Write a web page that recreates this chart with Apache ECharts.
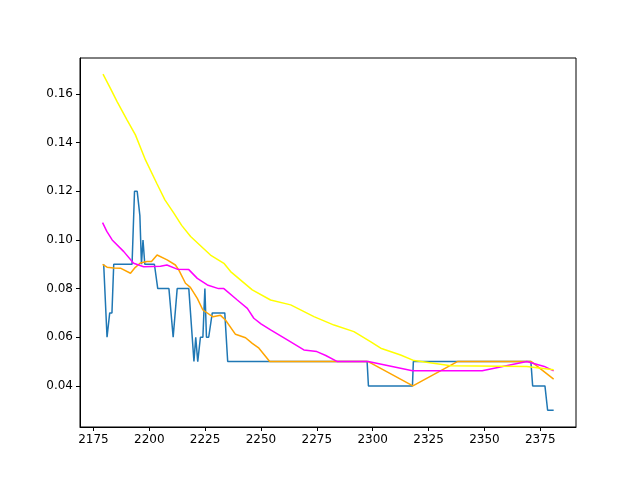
<!DOCTYPE html>
<html>
<head>
<meta charset="utf-8">
<script src="https://cdn.jsdelivr.net/npm/echarts@6/dist/echarts.min.js"></script>
<style>html,body{margin:0;background:#fff}#c{width:640px;height:480px}</style>
</head>
<body>
<div id="c"></div>
<script>
// [x, y] pairs
const blueLine = [
    [2179.6, 0.090], [2181.1, 0.060], [2182.3, 0.070], [2183.3, 0.070], [2184.1, 0.090],
    [2192.3, 0.090], [2193.4, 0.120], [2194.6, 0.120], [2195.8, 0.110], [2196.5, 0.090],
    [2197.2, 0.100], [2198.0, 0.090], [2202.3, 0.090], [2203.8, 0.080], [2208.8, 0.080],
    [2210.7, 0.060], [2212.5, 0.080], [2217.7, 0.080], [2220.0, 0.050], [2220.8, 0.060],
    [2221.7, 0.050], [2222.9, 0.060], [2224.0, 0.060], [2224.9, 0.080], [2225.6, 0.060],
    [2226.6, 0.060], [2228.2, 0.070], [2233.8, 0.070], [2235.1, 0.050], [2297.5, 0.050],
    [2298.1, 0.040], [2317.8, 0.040], [2318.2, 0.050], [2370.8, 0.050], [2371.6, 0.040],
    [2377.1, 0.040], [2378.3, 0.030], [2381.0, 0.030]
];
const orangeLine = [
    [2179.1, 0.090], [2181.1, 0.0888], [2184.0, 0.0885], [2187.1, 0.0884], [2191.6, 0.0863],
    [2193.4, 0.0884], [2196.0, 0.0905], [2199.0, 0.0911], [2201.0, 0.0911], [2203.5, 0.0938],
    [2208.0, 0.0918], [2211.7, 0.0897], [2213.2, 0.0877], [2216.2, 0.0822], [2218.4, 0.0805],
    [2221.5, 0.0760], [2224.0, 0.0712], [2228.5, 0.0684], [2231.9, 0.0690], [2234.1, 0.0671],
    [2238.6, 0.0612], [2243.1, 0.0598], [2246.1, 0.0575], [2249.1, 0.0555], [2253.9, 0.0500],
    [2298.0, 0.0500], [2318.0, 0.0400], [2337.9, 0.0500], [2371.0, 0.0500], [2381.0, 0.0428]
];
const magentaLine = [
    [2179.1, 0.1071], [2181.0, 0.1035], [2183.4, 0.1000], [2188.6, 0.0952], [2193.0, 0.0904],
    [2197.5, 0.0890], [2205.0, 0.0892], [2207.9, 0.0897], [2212.5, 0.0880], [2217.7, 0.0878],
    [2221.5, 0.0842], [2226.0, 0.0815], [2231.0, 0.0800], [2233.4, 0.0800], [2239.4, 0.0753],
    [2243.9, 0.0719], [2246.8, 0.0678], [2250.0, 0.0655], [2254.3, 0.0630], [2261.8, 0.0589],
    [2269.2, 0.0548], [2275.0, 0.0541], [2279.0, 0.0525], [2284.2, 0.0500], [2298.0, 0.0500],
    [2317.8, 0.0462], [2349.0, 0.0462], [2369.0, 0.0500], [2376.8, 0.0480], [2381.0, 0.0462]
];
const yellowLine = [
    [2179.3, 0.1682], [2182.5, 0.1625], [2185.6, 0.1569], [2190.1, 0.1493], [2193.8, 0.1432],
    [2198.3, 0.1329], [2203.5, 0.1230], [2207.0, 0.1165], [2211.0, 0.1110], [2214.5, 0.1060],
    [2218.5, 0.1014], [2227.4, 0.0938], [2233.4, 0.0904], [2236.4, 0.0870], [2246.1, 0.0795],
    [2254.3, 0.0753], [2263.3, 0.0733], [2273.7, 0.0685], [2282.7, 0.0650], [2291.6, 0.0623],
    [2299.0, 0.0582], [2303.6, 0.0555], [2312.5, 0.0527], [2318.5, 0.0504], [2335.0, 0.0483],
    [2369.0, 0.0480], [2381.0, 0.0466]
];
const xTicks = [2175, 2200, 2225, 2250, 2275, 2300, 2325, 2350, 2375];
const yTicks = [0.04, 0.06, 0.08, 0.10, 0.12, 0.14, 0.16];

const axisCommon = {
    axisLine: { show: true, onZero: false, lineStyle: { color: '#000', width: 1 } },
    axisTick: { show: true, length: 4, lineStyle: { color: '#000' } },
    splitLine: { show: false },
    axisLabel: { color: '#000', fontSize: 12, fontFamily: 'DejaVu Sans' }
};

const line = (data, color) => ({
    type: 'line', data, showSymbol: false, symbol: 'none', animation: false,
    lineStyle: { color, width: 1.5 }, itemStyle: { color }
});

const chart = echarts.init(document.getElementById('c'));
chart.setOption({
    animation: false,
    grid: { left: 80, right: 64, top: 58, bottom: 53, show: true, borderColor: '#000', borderWidth: 1 },
    xAxis: {
        ...axisCommon, type: 'value', min: 2169, max: 2391,
        axisTick: { ...axisCommon.axisTick, customValues: xTicks },
        axisLabel: { ...axisCommon.axisLabel, customValues: xTicks, formatter: v => String(v), margin: 7 }
    },
    yAxis: {
        ...axisCommon, type: 'value', min: 0.0231, max: 0.1748,
        axisTick: { ...axisCommon.axisTick, customValues: yTicks },
        axisLabel: { ...axisCommon.axisLabel, customValues: yTicks, formatter: v => v.toFixed(2), margin: 7 }
    },
    series: [
        line(blueLine, '#1f77b4'),
        line(orangeLine, '#ffa500'),
        line(magentaLine, '#ff00ff'),
        line(yellowLine, '#ffff00')
    ]
});
</script>
</body>
</html>
